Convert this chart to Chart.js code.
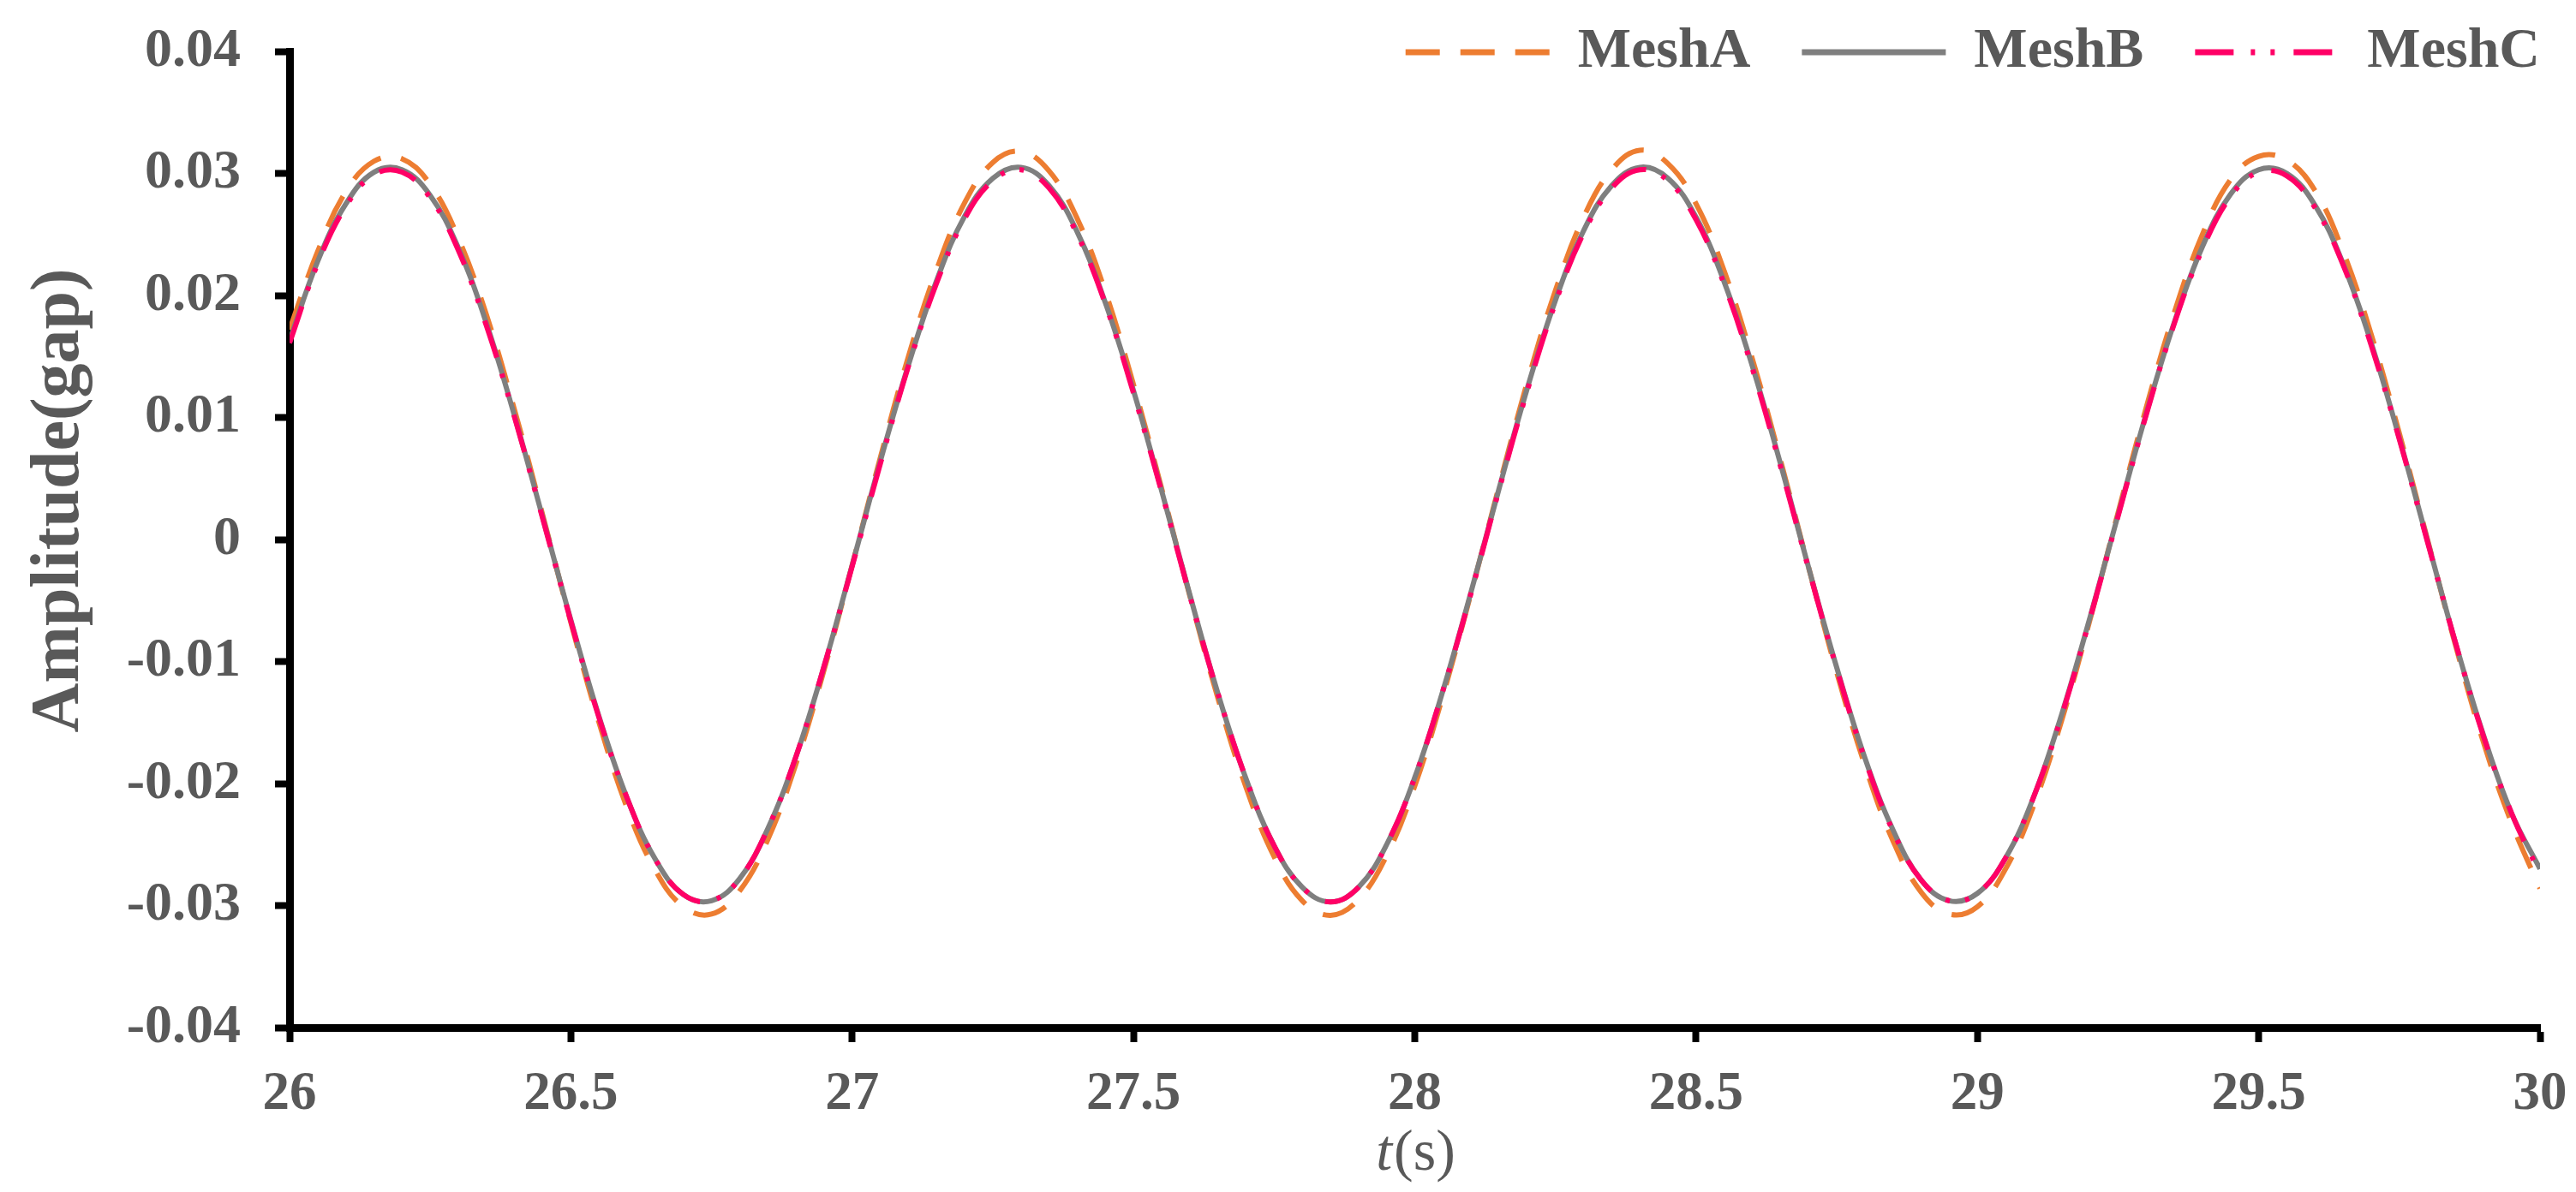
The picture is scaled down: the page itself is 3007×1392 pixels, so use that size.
<!DOCTYPE html>
<html>
<head>
<meta charset="utf-8">
<title>MeshA / MeshB / MeshC amplitude</title>
<script src="https://cdn.jsdelivr.net/npm/chart.js@4.4.1/dist/chart.umd.min.js"></script>
<style>
  html, body { margin: 0; padding: 0; background: #fff; }
  #wrap { width: 3007px; height: 1392px; }
</style>
</head>
<body>
<div id="wrap"><canvas id="chart" width="3007" height="1392"></canvas></div>
<script>
// time samples (s)
const times = [
  26.00, 26.05, 26.10, 26.15, 26.20, 26.25, 26.30, 26.35, 26.40, 26.45,
  26.50, 26.55, 26.60, 26.65, 26.70, 26.75, 26.80, 26.85, 26.90, 26.95,
  27.00, 27.05, 27.10, 27.15, 27.20, 27.25, 27.30, 27.35, 27.40, 27.45,
  27.50, 27.55, 27.60, 27.65, 27.70, 27.75, 27.80, 27.85, 27.90, 27.95,
  28.00, 28.05, 28.10, 28.15, 28.20, 28.25, 28.30, 28.35, 28.40, 28.45,
  28.50, 28.55, 28.60, 28.65, 28.70, 28.75, 28.80, 28.85, 28.90, 28.95,
  29.00, 29.05, 29.10, 29.15, 29.20, 29.25, 29.30, 29.35, 29.40, 29.45,
  29.50, 29.55, 29.60, 29.65, 29.70, 29.75, 29.80, 29.85, 29.90, 29.95,
  30.00
];

const meshA = [
  0.0172, 0.0236, 0.0285, 0.0310, 0.0312, 0.0291, 0.0247, 0.0184, 0.0106, 0.0020,
  -0.0068, -0.0150, -0.0220, -0.0271, -0.0301, -0.0307, -0.0288, -0.0246, -0.0184, -0.0107,
  -0.0021, 0.0067, 0.0150, 0.0221, 0.0276, 0.0309, 0.0318, 0.0302, 0.0263, 0.0203,
  0.0127, 0.0042, -0.0046, -0.0130, -0.0203, -0.0260, -0.0296, -0.0308, -0.0295, -0.0259,
  -0.0202, -0.0128, -0.0044, 0.0044, 0.0129, 0.0204, 0.0264, 0.0303, 0.0319, 0.0308,
  0.0275, 0.0220, 0.0148, 0.0065, -0.0023, -0.0109, -0.0185, -0.0247, -0.0289, -0.0307,
  -0.0301, -0.0270, -0.0218, -0.0148, -0.0066, 0.0022, 0.0108, 0.0186, 0.0250, 0.0295,
  0.0314, 0.0311, 0.0286, 0.0236, 0.0168, 0.0087, 0.0000, -0.0087, -0.0167, -0.0233,
  -0.0286
];

const meshB = [
  0.0163, 0.0228, 0.0275, 0.0301, 0.0303, 0.0282, 0.0239, 0.0177, 0.0101, 0.0018,
  -0.0066, -0.0145, -0.0212, -0.0262, -0.0291, -0.0296, -0.0278, -0.0237, -0.0178, -0.0104,
  -0.0021, 0.0064, 0.0143, 0.0212, 0.0265, 0.0296, 0.0305, 0.0290, 0.0252, 0.0194,
  0.0122, 0.0040, -0.0045, -0.0126, -0.0196, -0.0251, -0.0285, -0.0297, -0.0285, -0.0250,
  -0.0195, -0.0124, -0.0043, 0.0042, 0.0124, 0.0196, 0.0253, 0.0290, 0.0305, 0.0296,
  0.0264, 0.0211, 0.0142, 0.0062, -0.0023, -0.0105, -0.0179, -0.0238, -0.0279, -0.0296,
  -0.0290, -0.0261, -0.0211, -0.0143, -0.0064, 0.0020, 0.0103, 0.0178, 0.0240, 0.0283,
  0.0303, 0.0300, 0.0274, 0.0226, 0.0161, 0.0083, -0.0001, -0.0085, -0.0161, -0.0225,
  -0.0270
];

const meshC = [
  0.0161, 0.0226, 0.0273, 0.0299, 0.0301, 0.0280, 0.0237, 0.0175, 0.0100, 0.0017,
  -0.0067, -0.0146, -0.0212, -0.0262, -0.0291, -0.0296, -0.0278, -0.0237, -0.0178, -0.0104,
  -0.0022, 0.0062, 0.0142, 0.0210, 0.0263, 0.0294, 0.0303, 0.0288, 0.0250, 0.0193,
  0.0120, 0.0039, -0.0046, -0.0126, -0.0196, -0.0251, -0.0285, -0.0297, -0.0285, -0.0250,
  -0.0195, -0.0124, -0.0044, 0.0041, 0.0122, 0.0194, 0.0251, 0.0288, 0.0303, 0.0294,
  0.0262, 0.0209, 0.0140, 0.0060, -0.0024, -0.0106, -0.0180, -0.0239, -0.0279, -0.0296,
  -0.0290, -0.0261, -0.0211, -0.0144, -0.0065, 0.0019, 0.0102, 0.0177, 0.0238, 0.0281,
  0.0301, 0.0298, 0.0272, 0.0225, 0.0159, 0.0082, -0.0002, -0.0085, -0.0162, -0.0225,
  -0.0274
];

const xTicks = [26, 26.5, 27, 27.5, 28, 28.5, 29, 29.5, 30];
const yTicks = [-0.04, -0.03, -0.02, -0.01, 0, 0.01, 0.02, 0.03, 0.04];

const textColor = '#595959';
const serif = '"Liberation Serif", "Times New Roman", serif';

Chart.defaults.font.family = serif;
Chart.defaults.color = textColor;

const toPoints = vals => times.map((t, i) => ({ x: t, y: vals[i] }));

const figureText = {
    id: 'figureText',
    beforeLayout(chart) {
        // legend floats over the top right corner, so it takes no layout height
        const lg = chart.legend;
        if (lg && !lg._flat) {
            const fit = lg.fit.bind(lg);
            lg.fit = function () { fit(); this.height = 0; };
            lg._flat = true;
        }
    },
    afterLayout(chart) {
        const lg = chart.legend;
        lg.top = -32;
        lg.bottom = lg.top + 120;
        lg.left += 60;
        lg.right += 60;
    },
    afterDraw(chart) {
        const { ctx, chartArea } = chart;
        ctx.save();
        ctx.fillStyle = textColor;
        ctx.textBaseline = 'middle';

        // y title
        ctx.save();
        ctx.translate(70, chartArea.top + (chartArea.bottom - chartArea.top) * 0.46);
        ctx.rotate(-Math.PI / 2);
        ctx.textAlign = 'center';
        ctx.font = 'bold 80px ' + serif;
        ctx.fillText('Amplitude(gap)', 0, 0);
        ctx.restore();

        // x title: italic t, upright (s)
        const italic = 'italic 68px ' + serif;
        const upright = '68px ' + serif;
        ctx.font = italic;
        const wT = ctx.measureText('t').width;
        ctx.font = upright;
        const wS = ctx.measureText('(s)').width;
        const cx = (chartArea.left + chartArea.right) / 2;
        const y = chartArea.bottom + 148;
        const x0 = cx - (wT + wS) / 2;
        ctx.textAlign = 'left';
        ctx.font = italic;
        ctx.fillText('t', x0, y);
        ctx.font = upright;
        ctx.fillText('(s)', x0 + wT + 2, y);
        ctx.restore();
    }
};

new Chart(document.getElementById('chart'), {
    type: 'line',
    data: {
        datasets: [
            {
                label: 'MeshA',
                data: toPoints(meshA),
                borderColor: '#ED7D31',
                backgroundColor: '#ED7D31',
                borderWidth: 6,
                borderDash: [40, 24],
                order: 2
            },
            {
                label: 'MeshB',
                data: toPoints(meshB),
                borderColor: '#7F7F7F',
                backgroundColor: '#7F7F7F',
                borderWidth: 6,
                order: 1
            },
            {
                label: 'MeshC',
                data: toPoints(meshC),
                borderColor: '#FF0066',
                backgroundColor: '#FF0066',
                borderWidth: 6,
                borderDash: [45, 20, 5, 18, 5, 22],
                order: 0
            }
        ]
    },
    options: {
        responsive: false,
        animation: false,
        elements: {
            point: { radius: 0, hoverRadius: 0 },
            line: { tension: 0.4, fill: false }
        },
        layout: {
            padding: { top: 60, right: 42, bottom: 0, left: 0 }
        },
        scales: {
            x: {
                type: 'linear',
                min: 26,
                max: 30,
                afterBuildTicks: s => { s.ticks = xTicks.map(v => ({ value: v })); },
                afterFit: s => { s.height = 192; },
                border: { display: true, color: '#000', width: 9 },
                grid: { drawOnChartArea: false, drawTicks: true, tickLength: 17, tickWidth: 8, tickColor: '#000' },
                ticks: {
                    color: textColor,
                    font: { size: 63, weight: 'bold', lineHeight: 1.7 },
                    padding: 8,
                    maxRotation: 0,
                    autoSkip: false,
                    callback: v => String(v)
                }
            },
            y: {
                type: 'linear',
                min: -0.04,
                max: 0.04,
                afterBuildTicks: s => { s.ticks = yTicks.map(v => ({ value: v })); },
                afterFit: s => { s.width = 338; },
                border: { display: true, color: '#000', width: 9 },
                grid: { drawOnChartArea: false, drawTicks: true, tickLength: 17, tickWidth: 8, tickColor: '#000' },
                ticks: {
                    color: textColor,
                    font: { size: 64, weight: 'bold', lineHeight: 0.6 },
                    padding: 40,
                    autoSkip: false,
                    callback: v => (v === 0 ? '0' : v.toFixed(2))
                }
            }
        },
        plugins: {
            legend: {
                position: 'top',
                align: 'end',
                labels: {
                    usePointStyle: true,
                    pointStyle: 'line',
                    pointStyleWidth: 168,
                    padding: 60,
                    color: textColor,
                    font: { size: 66, weight: 'bold' },
                    // line samples take the dataset's dash and width
                    generateLabels: chart => Chart.defaults.plugins.legend.labels.generateLabels(chart).map(item => {
                        const ds = chart.data.datasets[item.datasetIndex];
                        item.lineDash = ds.borderDash || [];
                        item.lineWidth = 7;
                        item.strokeStyle = ds.borderColor;
                        return item;
                    }),
                    sort: (a, b) => a.datasetIndex - b.datasetIndex
                }
            },
            tooltip: { enabled: false }
        }
    },
    plugins: [figureText]
});
</script>
</body>
</html>
